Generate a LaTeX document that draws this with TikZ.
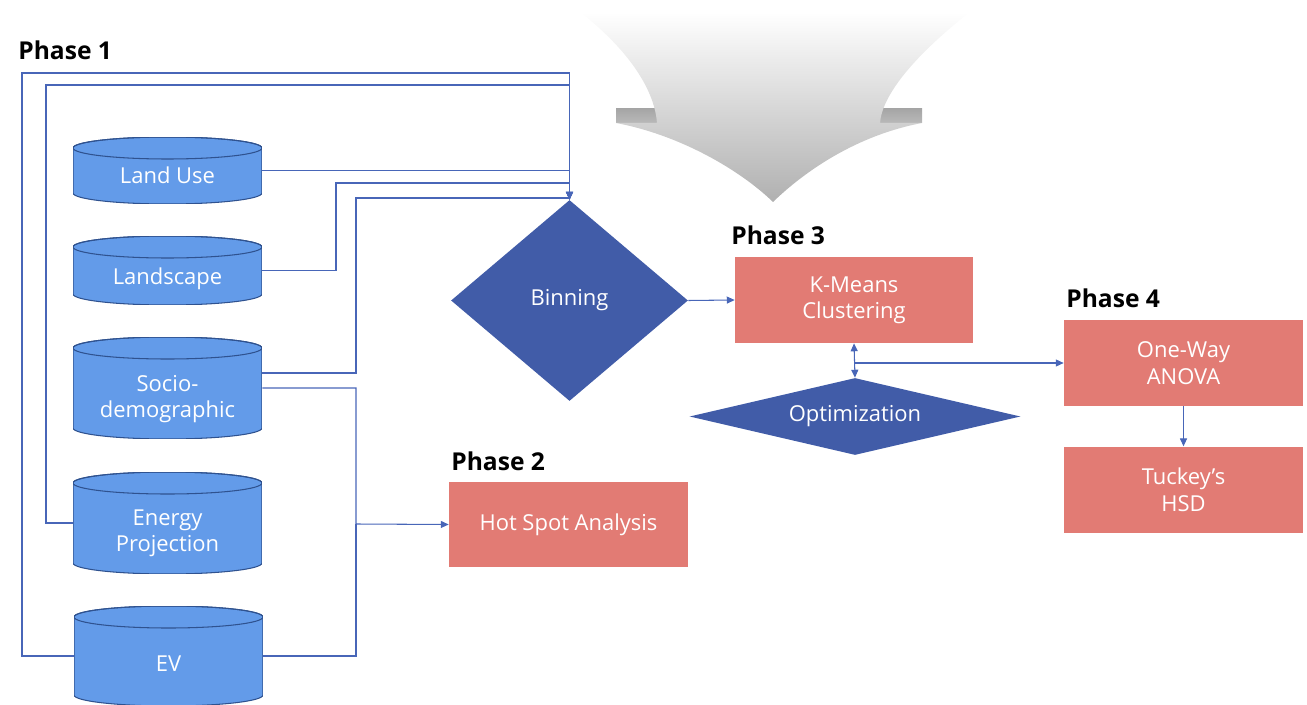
\documentclass[tikz,border=0pt]{standalone}
\usepackage{fontspec}
\setmainfont{Open Sans}
\usetikzlibrary{shapes.geometric,arrows.meta,positioning}
\definecolor{dbfill}{RGB}{99,155,233}
\definecolor{dbline}{RGB}{47,82,143}
\definecolor{decfill}{RGB}{65,92,168}
\definecolor{procfill}{RGB}{226,123,116}
\definecolor{linkcol}{RGB}{72,102,184}
\newcommand{\dbry}{0.22cm}
\newcommand{\dbrx}{1.89cm}

\tikzset{
  body/.style={font=\fontsize{12.5}{15}\selectfont, text=white, align=center, inner sep=0pt},
  dbase/.style={inner sep=0pt, minimum width=3.78cm,
    path picture={
      \draw[fill=dbfill, draw=dbline, line width=0.6pt]
        ([yshift=-\dbry]path picture bounding box.north west) --
        ([yshift=\dbry]path picture bounding box.south west)
        arc[start angle=180, end angle=360, x radius=\dbrx, y radius=\dbry] --
        ([yshift=-\dbry]path picture bounding box.north east)
        arc[start angle=0, end angle=180, x radius=\dbrx, y radius=\dbry] -- cycle;
      \draw[dbline, line width=0.6pt] ([yshift=-\dbry]path picture bounding box.north)
        ellipse[x radius=\dbrx, y radius=\dbry];
    }},
  dbtext/.style={body},
  decision/.style={body, diamond, fill=decfill},
  process/.style={body, rectangle, fill=procfill, minimum width=4.78cm, minimum height=1.72cm},
  phase/.style={font=\fontsize{14}{16}\selectfont\bfseries, anchor=base west, inner sep=0pt},
  line/.style={draw=linkcol, line width=0.6pt},
  link/.style={line, -{Triangle[length=4.5pt,width=4pt]}},
  twoway/.style={line, {Triangle[length=4.5pt,width=4pt]}-{Triangle[length=4.5pt,width=4pt]}}
}

\begin{document}
\begin{tikzpicture}[x=0.02cm,y=-0.02cm]
\useasboundingbox (0,0) rectangle (1307,705);

% big grey arrow at the top
\fill[top color=gray!70, bottom color=gray!55] (616,109) rectangle (922,123);
\shade[top color=white, bottom color=gray!62]
  (580,12) .. controls (635,55) and (655,95) .. (657,123) -- (616,123)
  .. controls (680,135) and (740,170) .. (773,202)
  .. controls (806,170) and (858,135) .. (922,123) -- (880,123)
  .. controls (882,95) and (915,55) .. (970,12) -- cycle;

% phase 1: data sources
\node[phase] (ph1) at (18,60) {Phase 1};
\node[dbase, minimum height=1.34cm,
  label={[dbtext, yshift=-0.1cm]center:Land Use}] (luse) at (167.5,170.5) {};
\node[dbase, minimum height=1.38cm,
  label={[dbtext, yshift=-0.16cm]center:Landscape}] (lscape) at (167.5,270.5) {};
\node[dbase, minimum height=2.04cm,
  label={[dbtext, yshift=-0.22cm]center:{Socio-\\demographic}}] (socio) at (167.5,388) {};
\node[dbase, minimum height=2.04cm,
  label={[dbtext, yshift=-0.2cm]center:{Energy\\Projection}}] (energy) at (167.5,523) {};
\node[dbase, minimum height=2.0cm,
  label={[dbtext, yshift=-0.16cm]center:EV}] (ev) at (168.5,656) {};

\node[decision, aspect=1.18, minimum width=4.74cm, minimum height=4.02cm] (binning) at (569.5,300.5) {Binning};

% phase 2
\node[phase] (ph2) at (451,470) {Phase 2};
\node[process, minimum height=1.7cm] (hotspot) at (568.5,524.5) {Hot Spot Analysis};

% phase 3
\node[phase] (ph3) at (731,245) {Phase 3};
\node[process, minimum width=4.76cm] (kmeans) at (854,300) {K-Means\\Clustering};
\node[decision, aspect=4.3, minimum width=6.62cm, minimum height=1.54cm] (optim) at (855,416.5) {Optimization};
\coordinate (fork) at (855,363);

% phase 4
\node[phase] (ph4) at (1066,308) {Phase 4};
\node[process] (anova) at (1183.5,363) {One-Way\\ANOVA};
\node[process, below=0.8cm of anova] (tukey) {Tuckey's\\HSD};

% connectors
\draw[link] (ev.west) -| (22,73) -| (binning.north);
\draw[link] (energy.west) -| (46,85) -| (binning.north);
\draw[link] (luse.east) -| (binning.north);
\draw[link] (lscape.east) -| (336,183) -| (binning.north);
\draw[link] ([yshift=0.3cm]socio.east) -| (356,198) -| (binning.north);
\draw[link] (socio.east) -| (356,524) -- (hotspot.west);
\draw[line] (ev.east) -| (356,524);
\draw[link] (binning.east) -- (kmeans.west);
\draw[twoway] (kmeans.south) -- (optim.north);
\draw[link] (fork) -- (anova.west);
\draw[link] (anova) -- (tukey);
\end{tikzpicture}
\end{document}
